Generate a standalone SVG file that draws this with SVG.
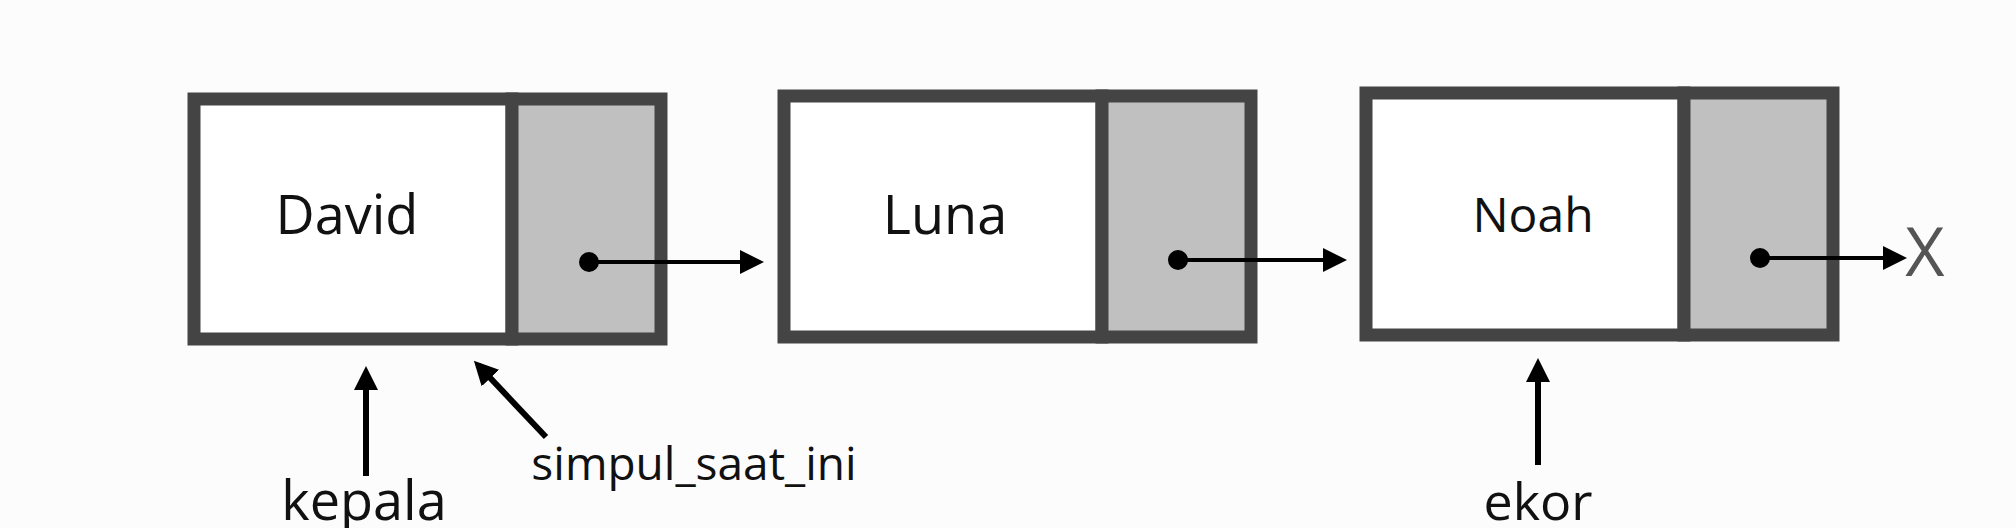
<svg xmlns="http://www.w3.org/2000/svg" width="2016" height="528" viewBox="0 0 2016 528">
<style>
.box{fill:#fff;stroke:#444;stroke-width:13}
.ptr{fill:#c0c0c0;stroke:#444;stroke-width:13}
.t{font-family:"Open Sans",sans-serif;fill:#111;text-anchor:middle}
.c{stroke:#000;stroke-width:4;fill:none}
.c2{stroke:#000;stroke-width:6;fill:none}
</style>
<defs>
<marker id="a" markerWidth="6" markerHeight="6" refX="5" refY="3" orient="auto" markerUnits="strokeWidth"><path d="M0,0L6,3L0,6z" fill="#000"/></marker>
<marker id="b" markerWidth="4" markerHeight="4" refX="3" refY="2" orient="auto" markerUnits="strokeWidth"><path d="M0,0L4,2L0,4z" fill="#000"/></marker>
</defs>
<rect width="2016" height="528" fill="#fcfcfc"/>
<g id="node1">
<rect class="box" x="194" y="99" width="318" height="240"/>
<rect class="ptr" x="512" y="99" width="149" height="240"/>
<text class="t" x="347" y="234" font-size="54">David</text>
</g>
<g id="node2">
<rect class="box" x="784" y="96" width="318" height="241"/>
<rect class="ptr" x="1102" y="96" width="149" height="241"/>
<text class="t" x="945" y="234" font-size="54">Luna</text>
</g>
<g id="node3">
<rect class="box" x="1366" y="93" width="318" height="242"/>
<rect class="ptr" x="1684" y="93" width="149" height="242"/>
<text class="t" x="1533" y="232" font-size="48">Noah</text>
</g>
<g id="null"><text class="t" x="1925" y="276" font-size="68" style="fill:#555">X</text></g>
<g id="labels">
<text class="t" x="364" y="520" font-size="54">kepala</text>
<text class="t" x="1538" y="520" font-size="52">ekor</text>
<text class="t" x="694" y="480" font-size="46">simpul_saat_ini</text>
</g>
<g id="connectors">
<circle cx="589" cy="262" r="10"/>
<line class="c" x1="589" y1="262" x2="760" y2="262" marker-end="url(#a)"/>
<circle cx="1178" cy="260" r="10"/>
<line class="c" x1="1178" y1="260" x2="1343" y2="260" marker-end="url(#a)"/>
<circle cx="1760" cy="258" r="10"/>
<line class="c" x1="1760" y1="258" x2="1903" y2="258" marker-end="url(#a)"/>
<line class="c2" x1="366" y1="476" x2="366" y2="372" marker-end="url(#b)"/>
<line class="c2" x1="546" y1="437" x2="478" y2="365" marker-end="url(#b)"/>
<line class="c2" x1="1538" y1="465" x2="1538" y2="364" marker-end="url(#b)"/>
</g>
</svg>
